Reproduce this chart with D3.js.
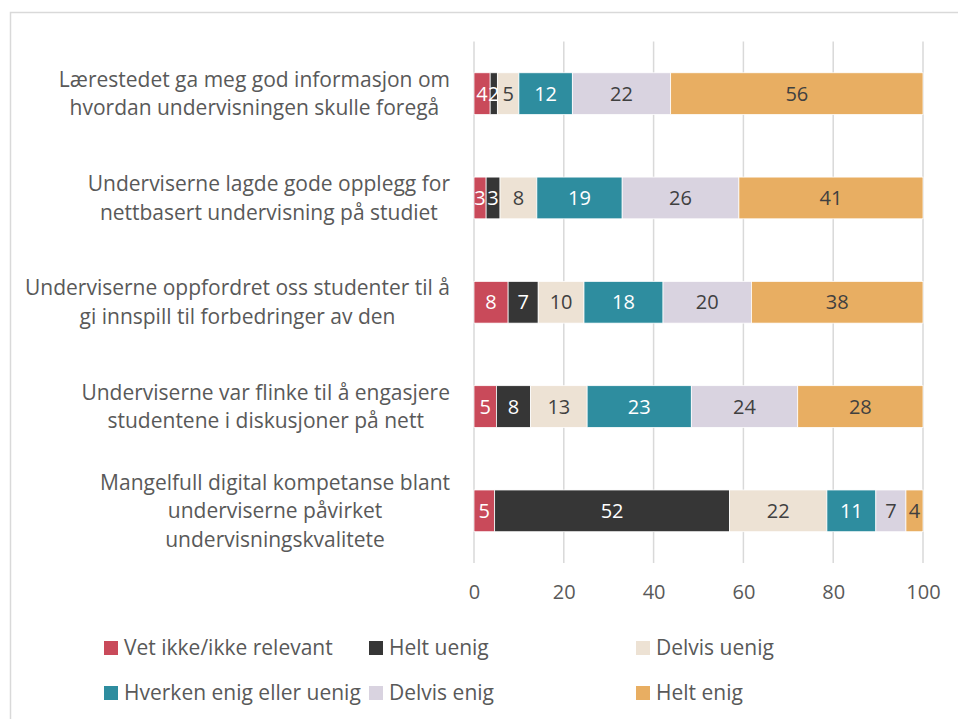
<!DOCTYPE html>
<html>
<head>
<meta charset="utf-8">
<script src="https://cdn.jsdelivr.net/npm/d3@7"></script>
<style>
  body { margin: 0; background: #fff; }
  text { font-family: "Open Sans", sans-serif; }
</style>
</head>
<body>
<svg id="chart" width="958" height="719"></svg>
<script>
// categories (line breaks as in the original)
const categories = [
    "Lærestedet ga meg god informasjon om\nhvordan undervisningen skulle foregå",
    "Underviserne lagde gode opplegg for\nnettbasert undervisning på studiet",
    "Underviserne oppfordret oss studenter til å\ngi innspill til forbedringer av den",
    "Underviserne var flinke til å engasjere\nstudentene i diskusjoner på nett",
    "Mangelfull digital kompetanse blant\nunderviserne påvirket\nundervisningskvalitete"
];

const seriesNames = ["Vet ikke/ikke relevant", "Helt uenig", "Delvis uenig",
    "Hverken enig eller uenig", "Delvis enig", "Helt enig"];

// percent per category
const vetIkke     = [3.6, 2.7, 7.6, 5.0, 4.6];
const heltUenig   = [1.6, 3.1, 6.7, 7.6, 52.3];
const delvisUenig = [4.8, 8.2, 10.2, 12.6, 21.7];
const hverken     = [11.9, 19.0, 17.6, 23.2, 10.9];
const delvisEnig  = [21.9, 26.0, 19.7, 23.7, 6.7];
const heltEnig    = [56.2, 41.0, 38.2, 27.9, 3.8];

const xTicks = [0, 20, 40, 60, 80, 100];

const colors = ["#C94A5A", "#363636", "#EDE2D4", "#2E8D9F", "#D9D3E0", "#E8AE62"];
const labelColors = ["#fff", "#fff", "#404040", "#fff", "#404040", "#404040"];

const seriesValues = [vetIkke, heltUenig, delvisUenig, hverken, delvisEnig, heltEnig];
const rows = categories.map((c, i) => {
    const r = { cat: c };
    seriesNames.forEach((s, j) => r[s] = seriesValues[j][i]);
    return r;
});

const svg = d3.select("#chart");

// outer frame
svg.append("path")
    .attr("d", "M10.5,719 V12.5 H958")
    .attr("fill", "none")
    .attr("stroke", "#D9D9D9")
    .attr("stroke-width", 1.5);

const plot = { left: 474, right: 923, top: 41.5, bottom: 563 };

const xScale = d3.scaleLinear().domain([0, 100]).range([plot.left, plot.right]);
const yScale = d3.scaleBand().domain(categories).range([plot.top, plot.bottom])
    .paddingInner(0.6).paddingOuter(0.3);

// gridlines
svg.append("g")
    .selectAll("line")
    .data(xTicks)
    .join("line")
    .attr("x1", d => xScale(d)).attr("x2", d => xScale(d))
    .attr("y1", plot.top).attr("y2", plot.bottom)
    .attr("stroke", "#D9D9D9")
    .attr("stroke-width", 1.5);

// x axis
const xAxis = svg.append("g")
    .attr("transform", `translate(0,${plot.bottom})`)
    .call(d3.axisBottom(xScale).tickValues(xTicks).tickSize(0).tickPadding(22));
xAxis.select(".domain").remove();
xAxis.selectAll("text")
    .attr("font-size", 20)
    .attr("fill", "#595959")
    .style("font-family", "'Open Sans', sans-serif");

// stacked bars
const stack = d3.stack().keys(seriesNames);
const stacked = stack(rows);

const layers = svg.append("g")
    .selectAll("g")
    .data(stacked)
    .join("g")
    .attr("fill", (d, i) => colors[i]);

layers.selectAll("rect")
    .data(d => d)
    .join("rect")
    .attr("x", d => xScale(d[0]))
    .attr("y", d => yScale(d.data.cat))
    .attr("width", d => xScale(d[1]) - xScale(d[0]))
    .attr("height", yScale.bandwidth())
    .attr("stroke", "#fff")
    .attr("stroke-width", 0.75);

layers.each(function(layer, i) {
    d3.select(this).selectAll("text")
        .data(layer)
        .join("text")
        .attr("x", d => (xScale(d[0]) + xScale(d[1])) / 2)
        .attr("y", d => yScale(d.data.cat) + yScale.bandwidth() / 2)
        .attr("dy", "0.35em")
        .attr("text-anchor", "middle")
        .attr("font-size", 20)
        .attr("fill", labelColors[i])
        .text(d => Math.round(d[1] - d[0]));
});

// category labels: lines centred, block right-aligned to the axis
const catLabels = svg.append("g");
const lineHeight = 28.5;
categories.forEach(c => {
    const lines = c.split("\n");
    const g = catLabels.append("text")
        .attr("font-size", 21)
        .attr("fill", "#595959")
        .attr("text-anchor", "middle");
    const cy = yScale(c) + yScale.bandwidth() / 2;
    lines.forEach((ln, k) => {
        g.append("tspan")
            .attr("y", cy + (k - (lines.length - 1) / 2) * lineHeight)
            .attr("dy", "0.35em")
            .text(ln);
    });
    let maxW = 0;
    g.selectAll("tspan").each(function() {
        maxW = Math.max(maxW, this.getComputedTextLength());
    });
    g.selectAll("tspan").attr("x", 450 - maxW / 2);
});

// legend
const legendPos = [[104, 648], [369, 648], [636, 648], [104, 693], [369, 693], [636, 693]];
const legend = svg.append("g")
    .selectAll("g")
    .data(seriesNames)
    .join("g")
    .attr("transform", (d, i) => `translate(${legendPos[i][0]},${legendPos[i][1]})`);

legend.append("rect")
    .attr("x", 0).attr("y", -7)
    .attr("width", 14).attr("height", 14)
    .attr("fill", (d, i) => colors[i]);

legend.append("text")
    .attr("x", 20)
    .attr("dy", "0.35em")
    .attr("font-size", 21)
    .attr("fill", "#595959")
    .text(d => d);
</script>
</body>
</html>
